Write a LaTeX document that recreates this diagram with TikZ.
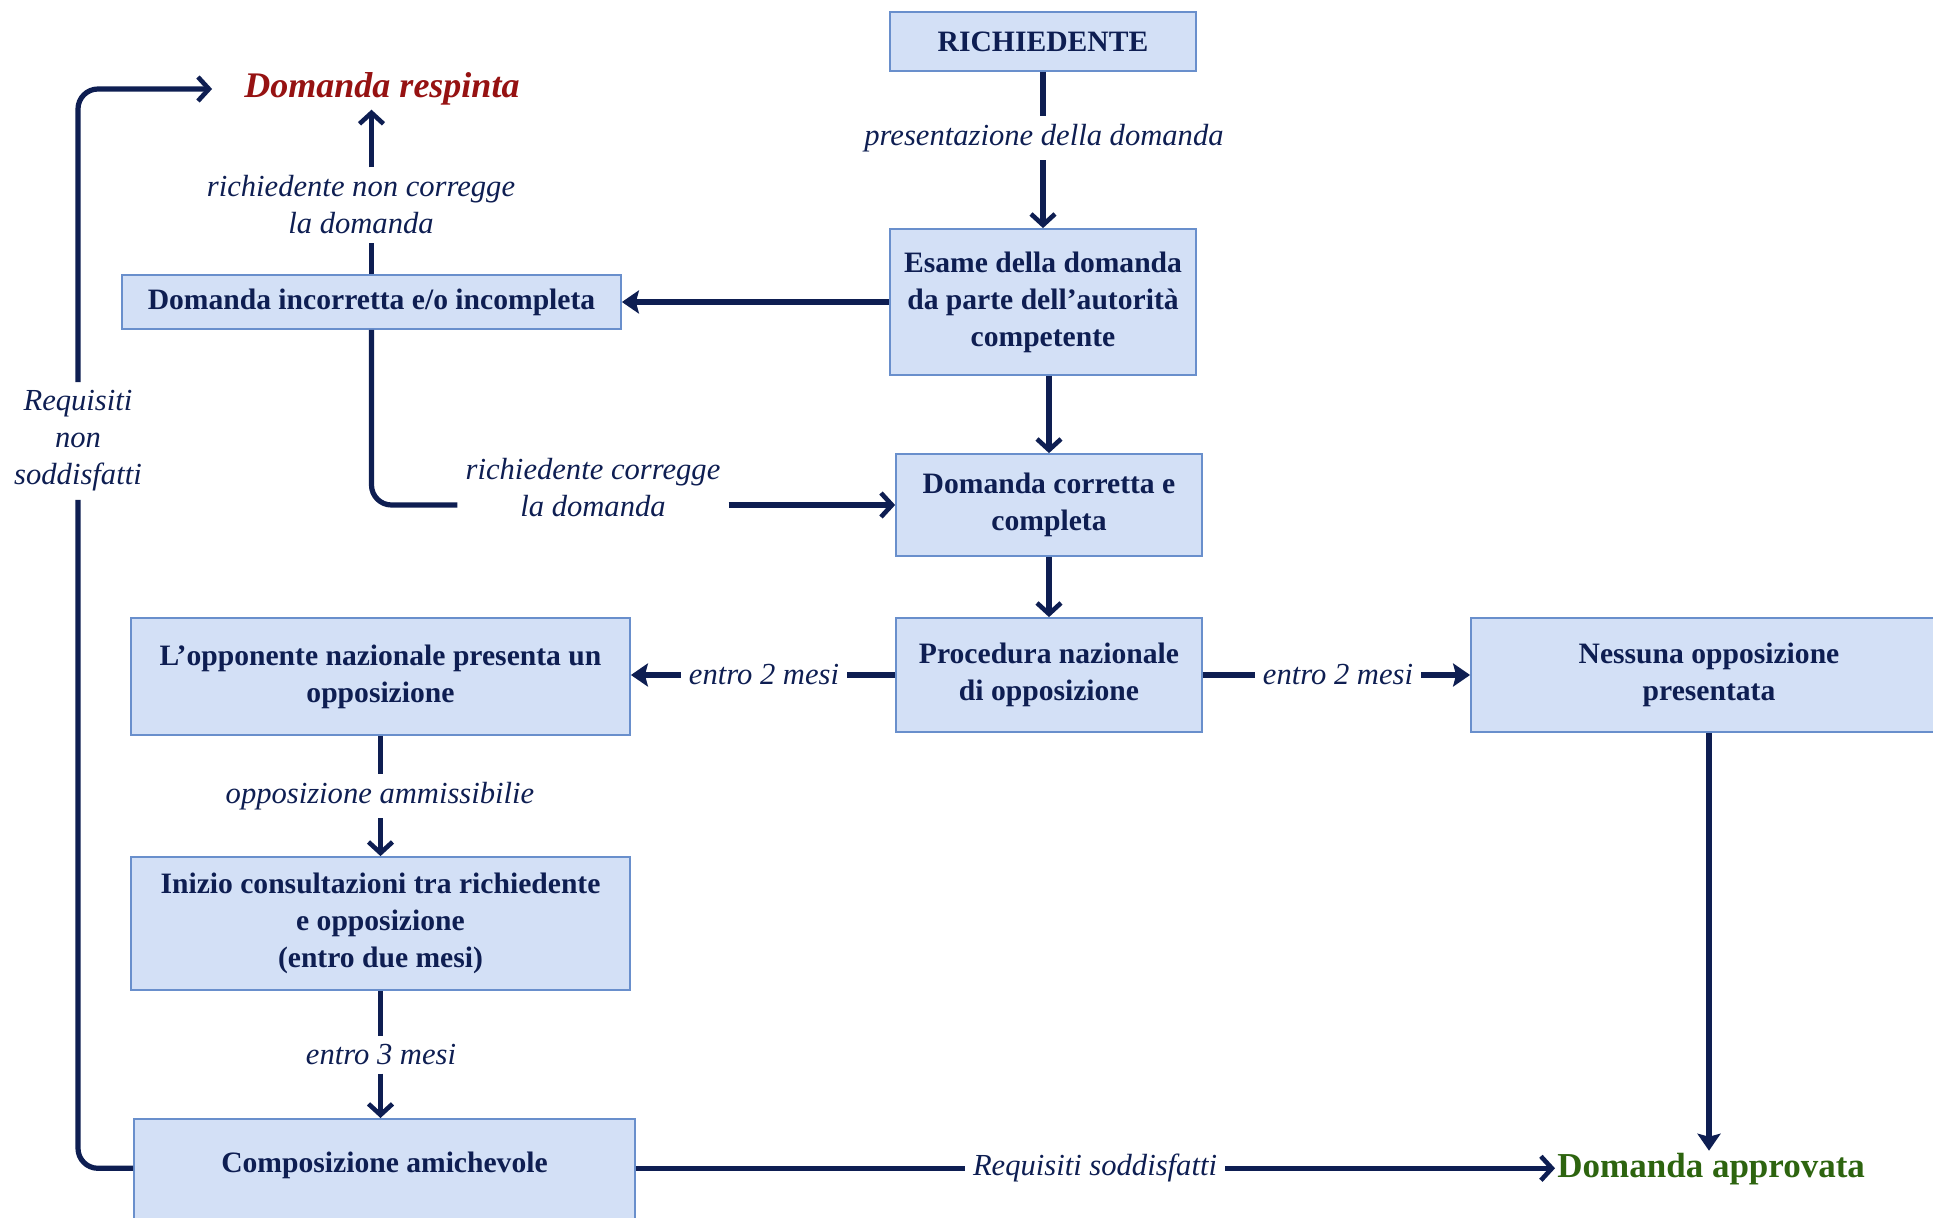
\documentclass[tikz,border=0pt]{standalone}
\usepackage{fontspec}
\setmainfont{Liberation Serif}
\usepackage{xcolor}
\usepackage{tikz}
\usetikzlibrary{arrows.meta,calc,positioning}
\definecolor{domnavy}{RGB}{14,30,82}
\definecolor{domred}{RGB}{150,18,18}
\definecolor{domgreen}{RGB}{45,100,15}
\definecolor{domfill}{RGB}{211,224,246}
\definecolor{domedge}{RGB}{105,143,204}

\begin{document}
\begin{tikzpicture}[x=0.5pt,y=-0.5pt,
    box/.style={draw=domedge,fill=domfill,line width=0.9pt,align=center,
      text=domnavy,font=\fontsize{14.8}{18.5}\selectfont\bfseries,inner sep=0pt},
    lbl/.style={text=domnavy,align=center,inner sep=4pt,
      font=\fontsize{15.3}{18.5}\selectfont\itshape},
    flow/.style={domnavy,line width=2.6pt},
    open/.style={flow,-{Straight Barb[length=5.5pt,width=12pt,line width=2.3pt]}},
    solid/.style={flow,-{Stealth[length=8.5pt,width=11.5pt,inset=1.5pt]}}]
    \useasboundingbox (0,0) rectangle (1933,1218);
    % caselle
    \node[box,minimum width=153pt,minimum height=29.5pt] (rich) at (1043,41.5) {RICHIEDENTE};
    \node[box,minimum width=153pt,minimum height=73pt] (esame) at (1043,302)
      {Esame della domanda\\da parte dell’autorità\\competente};
    \node[box,minimum width=153pt,minimum height=51pt] (corretta) at (1049,505)
      {Domanda corretta e\\completa};
    \node[box,minimum width=249.5pt,minimum height=27pt] (incorr) at (371.5,302)
      {Domanda incorretta e/o incompleta};
    \node[box,minimum width=153pt,minimum height=57pt] (proc) at (1049,675)
      {Procedura nazionale\\di opposizione};
    \node[box,minimum width=249.5pt,minimum height=58.5pt] (oppon) at (380.5,676.5)
      {L’opponente nazionale presenta un\\opposizione};
    \node[box,minimum width=238pt,minimum height=57pt] (nessuna) at (1709,675)
      {Nessuna opposizione\\presentata};
    \node[box,minimum width=249.5pt,minimum height=66.5pt] (inizio) at (380.5,923.5)
      {Inizio consultazioni tra richiedente\\e opposizione\\(entro due mesi)};
    \node[box,minimum width=250.5pt,anchor=north,text height=23pt,text depth=42pt,
      inner ysep=4pt] (compos) at (384.5,1118) {Composizione amichevole};
    % esiti
    \node[text=domred,font=\fontsize{18}{20}\selectfont\bfseries\itshape,inner sep=2pt]
      (resp) at (382,89) {Domanda respinta};
    \node[text=domgreen,font=\fontsize{17.5}{20}\selectfont\bfseries,inner sep=1pt,anchor=west]
      (appr) at (1555,1169) {Domanda approvata};
    % etichette
    \node[lbl] (lpres) at (1044,138) {presentazione della domanda};
    \node[lbl] (lnoncorr) at (361,205) {richiedente non corregge\\la domanda};
    \node[lbl] (lreq) at (78,441) {Requisiti\\non\\soddisfatti};
    \node[lbl] (lcorr) at (593,488) {richiedente corregge\\la domanda};
    \node[lbl] (lsx) at (764,675) {entro 2 mesi};
    \node[lbl] (ldx) at (1338,675) {entro 2 mesi};
    \node[lbl] (lamm) at (380,796) {opposizione ammissibilie};
    \node[lbl] (ltre) at (381,1055) {entro 3 mesi};
    \node[lbl] (lsodd) at (1095,1168) {Requisiti soddisfatti};
    % frecce
    \draw[flow] (rich.south) -- (lpres.north -| rich.south);
    \draw[open] (lpres.south -| rich.south) -- (esame.north);
    \draw[solid] (esame.west) -- (esame.west -| incorr.east);
    \draw[open] (esame.south -| corretta.north) -- (corretta.north);
    \draw[flow] (incorr.north) -- (incorr.north |- lnoncorr.south);
    \draw[open] (incorr.north |- lnoncorr.north) -- (incorr.north |- resp.south);
    \draw[flow,rounded corners=10pt] (incorr.south) |- (lcorr.west |- corretta.west);
    \draw[open] (lcorr.east |- corretta.west) -- (corretta.west);
    \draw[open] (corretta.south) -- (proc.north);
    \draw[flow] (proc.west) -- (lsx.east);
    \draw[solid] (lsx.west) -- (lsx.west -| oppon.east);
    \draw[flow] (proc.east) -- (ldx.west);
    \draw[solid] (ldx.east) -- (nessuna.west);
    \draw[flow] (oppon.south) -- (oppon.south |- lamm.north);
    \draw[open] (oppon.south |- lamm.south) -- (inizio.north);
    \draw[flow] (inizio.south) -- (inizio.south |- ltre.north);
    \draw[open] (inizio.south |- ltre.south) -- (inizio.south |- compos.north);
    \draw[solid] (nessuna.south) -- (nessuna.south |- appr.north);
    \draw[flow] (compos.mid east) -- (compos.mid east -| lsodd.west);
    \draw[open] (lsodd.east |- compos.mid east) -- (appr.west |- compos.mid east);
    \draw[flow,rounded corners=10pt] (compos.mid west) -| (lreq.south);
    \draw[open,rounded corners=10pt] (lreq.north) |- ([xshift=-14pt]resp.west);
\end{tikzpicture}
\end{document}
